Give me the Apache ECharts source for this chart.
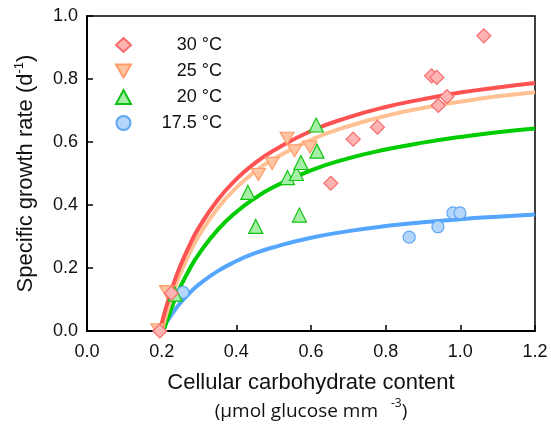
<!DOCTYPE html>
<html><head><meta charset="utf-8">
<script src="https://cdn.jsdelivr.net/npm/echarts@6/dist/echarts.min.js"></script>
<style>html,body{margin:0;padding:0;background:#fff}#c{width:551px;height:429px}</style>
</head><body><div id="c"></div>
<script>
const legendNames = ['30 °C', '25 °C', '20 °C', '17.5 °C'];
const xTickLabels = ['0.0', '0.2', '0.4', '0.6', '0.8', '1.0', '1.2'];
const yTickLabels = ['0.0', '0.2', '0.4', '0.6', '0.8', '1.0'];

// measured points [carbohydrate, growth rate]
const pts30 = [[0.195, 0.0], [0.226, 0.12], [0.653, 0.469], [0.713, 0.609], [0.778, 0.647], [0.923, 0.81], [0.937, 0.805], [0.941, 0.716], [0.964, 0.744], [1.063, 0.937]];
const pts25 = [[0.19, 0.004], [0.213, 0.125], [0.459, 0.497], [0.496, 0.532], [0.536, 0.612], [0.556, 0.572], [0.597, 0.584]];
const pts20 = [[0.236, 0.117], [0.431, 0.44], [0.452, 0.332], [0.537, 0.487], [0.561, 0.5], [0.573, 0.535], [0.569, 0.368], [0.616, 0.571], [0.614, 0.654]];
const pts175 = [[0.257, 0.123], [0.863, 0.298], [0.94, 0.331], [0.98, 0.375], [0.999, 0.375]];

// fitted curves
const fit30 = [[0.195, 0], [0.21, 0.067], [0.23, 0.143], [0.25, 0.207], [0.275, 0.273], [0.3, 0.329], [0.35, 0.416], [0.4, 0.482], [0.45, 0.533], [0.5, 0.573], [0.6, 0.635], [0.7, 0.678], [0.8, 0.711], [0.9, 0.736], [1.0, 0.757], [1.1, 0.773], [1.2, 0.787]];
const fit25 = [[0.2, 0], [0.215, 0.063], [0.23, 0.119], [0.25, 0.182], [0.275, 0.248], [0.3, 0.303], [0.35, 0.39], [0.4, 0.455], [0.45, 0.506], [0.5, 0.546], [0.6, 0.607], [0.7, 0.65], [0.8, 0.683], [0.9, 0.708], [1.0, 0.728], [1.1, 0.745], [1.2, 0.758]];
const fit20 = [[0.205, 0], [0.22, 0.053], [0.235, 0.099], [0.25, 0.14], [0.275, 0.197], [0.3, 0.245], [0.35, 0.321], [0.4, 0.378], [0.45, 0.422], [0.5, 0.457], [0.6, 0.51], [0.7, 0.548], [0.8, 0.576], [0.9, 0.598], [1.0, 0.616], [1.1, 0.631], [1.2, 0.643]];
const fit175 = [[0.2, 0], [0.215, 0.031], [0.23, 0.058], [0.25, 0.089], [0.275, 0.121], [0.3, 0.148], [0.35, 0.19], [0.4, 0.222], [0.45, 0.247], [0.5, 0.266], [0.6, 0.296], [0.7, 0.317], [0.8, 0.333], [0.9, 0.345], [1.0, 0.355], [1.1, 0.363], [1.2, 0.37]];

const FONT = 'Liberation Sans';
const downTri = 'path://M0,0L14,0L7,12Z';

function lineSeries(name, data, color) {
  return { name: name, type: 'line', data: data, smooth: true, showSymbol: false, symbol: 'none',
    lineStyle: { color: color, width: 4 }, z: 2, silent: true };
}
function scatterSeries(name, data, symbol, size, fill, stroke) {
  return { name: name, type: 'scatter', data: data, symbol: symbol, symbolSize: size,
    itemStyle: { color: fill, borderColor: stroke, borderWidth: 1.2, opacity: 1 }, z: 5 };
}

const chart = echarts.init(document.getElementById('c'), null, { renderer: 'canvas' });
chart.setOption({
  animation: false,
  backgroundColor: '#fff',
  grid: { left: 87, right: 16, top: 16, bottom: 98, outerBoundsMode: 'none', containLabel: false, show: true, borderColor: '#000', borderWidth: 1.5, backgroundColor: 'transparent' },
  legend: {
    data: legendNames, orient: 'vertical', left: 110, top: 31, itemGap: 8, itemWidth: 15, itemHeight: 14,
    formatter: n => '{t|' + n + '}',
    textStyle: { fontFamily: FONT, fontSize: 18, color: '#111', rich: { t: { width: 86, align: 'right', lineHeight: 18, fontFamily: FONT, fontSize: 18, color: '#111' } } }
  },
  xAxis: {
    type: 'value', min: 0, max: 1.2, interval: 0.2,
    axisLine: { show: true, lineStyle: { color: '#000', width: 2 } },
    axisTick: { show: true, inside: true, length: 6, lineStyle: { color: '#000', width: 1.5 } },
    splitLine: { show: false },
    axisLabel: { fontFamily: FONT, fontSize: 18, color: '#111', margin: 12, formatter: (v) => xTickLabels[Math.round(v / 0.2)] },
    name: '{a|Cellular carbohydrate content}\n{b|(µmol glucose mm }{s|-3}{b|)}',
    nameLocation: 'middle', nameGap: 37,
    nameTextStyle: { fontFamily: FONT, rich: {
      a: { fontFamily: FONT, fontSize: 22, color: '#111', lineHeight: 29 },
      b: { fontFamily: 'Open Sans', fontSize: 19, color: '#111', lineHeight: 29 },
      s: { fontFamily: 'Open Sans', fontSize: 12, color: '#111', padding: [0, 0, 16, 8], lineHeight: 29 }
    } }
  },
  yAxis: {
    type: 'value', min: 0, max: 1, interval: 0.2,
    axisLine: { show: true, lineStyle: { color: '#000', width: 2 } },
    axisTick: { show: true, inside: true, length: 6, lineStyle: { color: '#000', width: 1.5 } },
    splitLine: { show: false },
    axisLabel: { fontFamily: FONT, fontSize: 18, color: '#111', margin: 9, formatter: (v) => yTickLabels[Math.round(v / 0.2)] },
    name: '{a|Specific growth rate (d}{s|-1}{a|)}',
    nameLocation: 'middle', nameGap: 49, nameRotate: 90,
    nameTextStyle: { fontFamily: FONT, rich: {
      a: { fontFamily: FONT, fontSize: 22, color: '#111' },
      s: { fontFamily: FONT, fontSize: 13, color: '#111', padding: [0, 0, 12, 0] }
    } }
  },
  series: [
    lineSeries('fit175', fit175, '#55a6ff'),
    lineSeries('fit20', fit20, '#00cc00'),
    lineSeries('fit25', fit25, '#ffc193'),
    lineSeries('fit30', fit30, '#ff5252'),
    scatterSeries('17.5 °C', pts175, 'circle', 12, '#b5d6fb', '#5ea6f5'),
    scatterSeries('20 °C', pts20, 'triangle', 14, '#a6efa6', '#12c212'),
    scatterSeries('25 °C', pts25, downTri, [14, 12], '#ffc4a2', '#ff9c6b'),
    scatterSeries('30 °C', pts30, 'diamond', 14, '#ffb4b4', '#f76a6a')
  ]
});
</script></body></html>
